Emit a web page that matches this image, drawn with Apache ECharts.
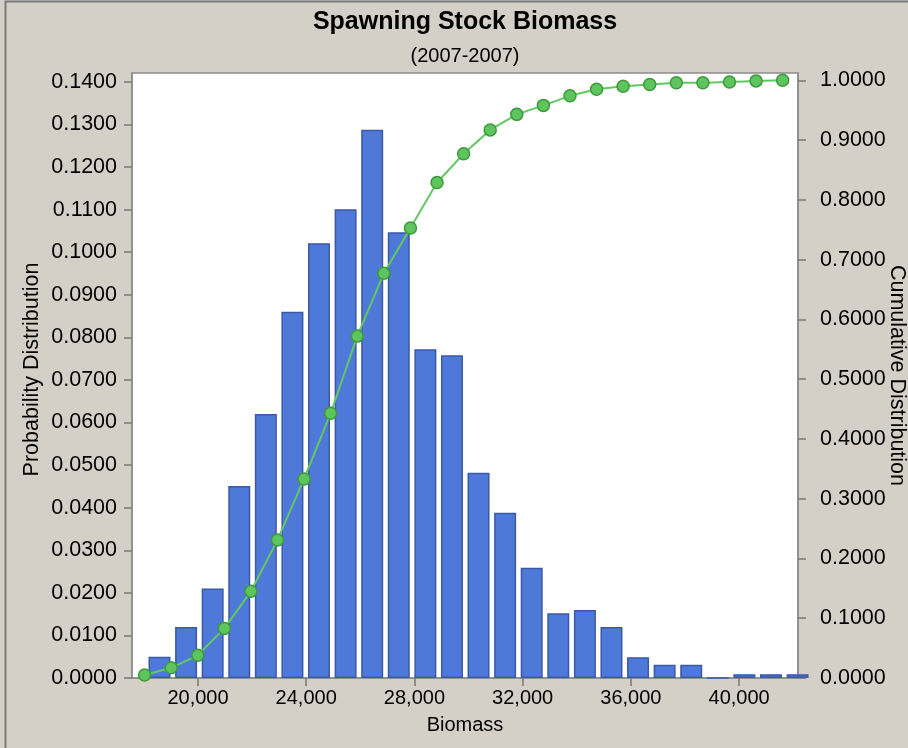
<!DOCTYPE html>
<html>
<head>
<meta charset="utf-8">
<title>Spawning Stock Biomass</title>
<script src="https://cdn.jsdelivr.net/npm/echarts@6/dist/echarts.min.js"></script>
<style>
  html, body { margin: 0; padding: 0; background: #d4d0c8; }
  #chart { width: 908px; height: 748px; }
</style>
</head>
<body>
<div id="chart"></div>
<script>
// bin centres (biomass) for the probability bars
const binCenters = [18578, 19561, 20543, 21526, 22508, 23491, 24474, 25456, 26439, 27421,
  28404, 29387, 30369, 31352, 32334, 33317, 34300, 35282, 36265, 37247,
  38230, 39213, 40195, 41178, 42160]
// probability per bin
const probability = [0.0050, 0.0120, 0.0210, 0.0451, 0.0620, 0.0860, 0.1021, 0.1101, 0.1288, 0.1047,
  0.0772, 0.0758, 0.0482, 0.0388, 0.0259, 0.0152, 0.0160, 0.0120, 0.0049, 0.0031,
  0.0031, 0.0000, 0.0009, 0.0009, 0.0009]
// x positions of the cumulative points
const cumX = [18027, 19010, 19992, 20975, 21957, 22940, 23922, 24905, 25888, 26870,
  27853, 28835, 29818, 30800, 31783, 32766, 33748, 34731, 35713, 36696,
  37678, 38661, 39644, 40626, 41609]
// cumulative distribution
const cumulative = [0.005, 0.017, 0.038, 0.083, 0.145, 0.231, 0.333, 0.443, 0.572, 0.677,
  0.753, 0.829, 0.877, 0.917, 0.943, 0.958, 0.974, 0.985, 0.990, 0.993,
  0.996, 0.996, 0.997, 0.999, 1.000]

// tick labels
const xTicks = [20000, 24000, 28000, 32000, 36000, 40000]
const leftTicks = [0, 0.01, 0.02, 0.03, 0.04, 0.05, 0.06, 0.07, 0.08, 0.09, 0.10, 0.11, 0.12, 0.13, 0.14]
const rightTicks = [0, 0.1, 0.2, 0.3, 0.4, 0.5, 0.6, 0.7, 0.8, 0.9, 1.0]

const FONT = 'Liberation Sans, Arial, sans-serif'
const FS = 20      // x axis text
const FS_Y = 21.5  // y axis text is drawn a touch larger
const AXIS_GRAY = '#8c8c8c'

const chart = echarts.init(document.getElementById('chart'))

const fmtThousands = v => Math.round(v).toString().replace(/\B(?=(\d{3})+(?!\d))/g, ',')

const option = {
  backgroundColor: '#d4d0c8',
  animation: false,
  textStyle: { fontFamily: FONT },
  graphic: [
    {
      type: 'rect',
      shape: { x: 5.5, y: 1.5, width: 920, height: 800 },
      style: { fill: 'none', stroke: '#7a7a7a', lineWidth: 2 },
      silent: true
    }
  ],
  title: [
    {
      text: 'Spawning Stock Biomass',
      left: 465,
      top: 10,
      textAlign: 'center',
      padding: 0,
      textStyle: { fontFamily: FONT, fontSize: 25, fontWeight: 'bold', color: '#000' }
    },
    {
      text: '(2007-2007)',
      left: 465,
      top: 46,
      textAlign: 'center',
      padding: 0,
      textStyle: { fontFamily: FONT, fontSize: 20, fontWeight: 'normal', color: '#000' }
    }
  ],
  grid: {
    show: true,
    left: 132,
    right: 110,
    top: 73,
    bottom: 70,
    outerBoundsMode: 'none',
    containLabel: false,
    backgroundColor: '#ffffff',
    borderColor: AXIS_GRAY,
    borderWidth: 1.5
  },
  xAxis: {
    type: 'value',
    min: 17562,
    max: 42176,
    name: 'Biomass',
    nameLocation: 'middle',
    nameGap: 37,
    nameTextStyle: { fontFamily: FONT, fontSize: FS, color: '#000' },
    axisLine: { show: true, lineStyle: { color: AXIS_GRAY, width: 1.5 } },
    axisTick: { show: true, length: 8, customValues: xTicks, lineStyle: { color: '#777', width: 1.5 } },
    axisLabel: {
      customValues: xTicks,
      formatter: fmtThousands,
      margin: 10,
      fontFamily: FONT,
      fontSize: FS,
      color: '#000'
    },
    splitLine: { show: false }
  },
  yAxis: [
    {
      type: 'value',
      min: 0,
      max: 0.1421,
      name: 'Probability Distribution',
      nameLocation: 'middle',
      nameGap: 89,
      nameMoveOverlap: false,
      // sits a little above the plot centre in the original
      nameTextStyle: { fontFamily: FONT, fontSize: FS_Y, color: '#000', padding: [0, 0, 0, 12] },
      axisLine: { show: true, lineStyle: { color: AXIS_GRAY, width: 1.5 } },
      axisTick: { show: true, length: 8, customValues: leftTicks, lineStyle: { color: '#777', width: 1.5 } },
      axisLabel: {
        customValues: leftTicks,
        formatter: v => v.toFixed(4),
        margin: 15,
        fontFamily: FONT,
        fontSize: FS_Y,
        color: '#000'
      },
      splitLine: { show: false }
    },
    {
      type: 'value',
      position: 'right',
      min: 0,
      max: 1.0122,
      name: 'Cumulative Distribution',
      nameLocation: 'middle',
      nameRotate: -90,
      nameGap: 88,
      nameMoveOverlap: false,
      nameTextStyle: { fontFamily: FONT, fontSize: FS_Y, color: '#000' },
      axisLine: { show: true, lineStyle: { color: AXIS_GRAY, width: 1.5 } },
      axisTick: { show: true, length: 8, customValues: rightTicks, lineStyle: { color: '#777', width: 1.5 } },
      axisLabel: {
        customValues: rightTicks,
        formatter: v => v.toFixed(4),
        margin: 22,
        fontFamily: FONT,
        fontSize: FS_Y,
        color: '#000'
      },
      splitLine: { show: false }
    }
  ],
  series: [
    {
      name: 'Probability',
      type: 'bar',
      yAxisIndex: 0,
      barWidth: 22,
      clip: false,
      data: binCenters.map((x, i) => [x, probability[i]]),
      itemStyle: {
        color: '#4f79d8',
        borderColor: '#3a5aa6',
        borderWidth: 1.5
      },
      z: 2
    },
    {
      name: 'Cumulative',
      type: 'line',
      yAxisIndex: 1,
      data: cumX.map((x, i) => [x, cumulative[i]]),
      symbol: 'circle',
      symbolSize: 12,
      showAllSymbol: true,
      lineStyle: { color: '#62c862', width: 2 },
      itemStyle: { color: '#5ec45e', borderColor: '#3c9a3c', borderWidth: 1.5 },
      z: 3
    }
  ]
}

chart.setOption(option)
</script>
</body>
</html>
